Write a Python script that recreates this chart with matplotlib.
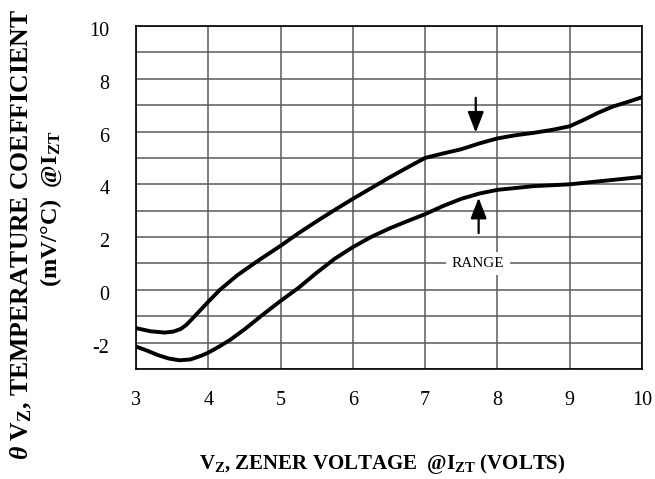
import matplotlib
matplotlib.use("Agg")
import matplotlib.pyplot as plt
import matplotlib.transforms as mtransforms
from matplotlib import font_manager
from matplotlib.ft2font import FT2Font

# ---------------- data ----------------
upper_x = [3.0, 3.2, 3.4, 3.52, 3.62, 3.7, 3.77, 3.88, 4.0, 4.16, 4.4, 4.67, 5.0,
           5.25, 5.5, 5.75, 6.0, 6.25, 6.5, 6.75, 7.0, 7.25, 7.5, 7.75, 8.0, 8.25,
           8.5, 8.75, 9.0, 9.2, 9.4, 9.6, 9.8, 10.0]
upper_y = [-1.45, -1.57, -1.62, -1.58, -1.48, -1.32, -1.12, -0.8, -0.45, 0.0, 0.55,
           1.07, 1.67, 2.15, 2.6, 3.03, 3.45, 3.85, 4.25, 4.63, 5.0, 5.17, 5.33,
           5.55, 5.74, 5.86, 5.95, 6.06, 6.2, 6.45, 6.72, 6.95, 7.12, 7.3]

lower_x = [3.0, 3.15, 3.3, 3.45, 3.6, 3.75, 3.9, 4.0, 4.15, 4.3, 4.5, 4.75, 5.0,
           5.25, 5.5, 5.75, 6.0, 6.25, 6.5, 6.75, 7.0, 7.25, 7.5, 7.75, 8.0, 8.5,
           9.0, 9.5, 10.0]
lower_y = [-2.15, -2.3, -2.47, -2.6, -2.67, -2.64, -2.5, -2.38, -2.15, -1.9, -1.5,
           -0.95, -0.42, 0.08, 0.65, 1.18, 1.62, 2.0, 2.32, 2.6, 2.87, 3.18, 3.45,
           3.65, 3.79, 3.93, 4.0, 4.14, 4.28]

x_ticks = [3, 4, 5, 6, 7, 8, 9, 10]
y_ticks = [-2, 0, 2, 4, 6, 8, 10]
y_minor = [-3, -1, 1, 3, 5, 7, 9]

range_label = "RANGE"
range_pos = (7.73, 1.0)
arrow_down = ((7.70, 7.28), (7.70, 5.96))   # (tail, tip)
arrow_up = ((7.74, 2.15), (7.74, 3.49))

# ---------------- fonts ----------------
plt.rcParams['font.family'] = ['Liberation Serif', 'DejaVu Serif']
plt.rcParams['mathtext.fontset'] = 'custom'
plt.rcParams['mathtext.rm'] = 'Liberation Serif:bold'
plt.rcParams['mathtext.bf'] = 'Liberation Serif:bold'
plt.rcParams['mathtext.it'] = 'Liberation Serif:bold:italic'

deg = '℃'
try:
    fp = font_manager.findfont(font_manager.FontProperties(family='Liberation Serif', weight='bold'))
    if ord(deg) not in FT2Font(fp).get_charmap():
        deg = '°C'
except Exception:
    deg = '°C'

# ---------------- figure ----------------
fig = plt.figure(figsize=(6.55, 4.79), dpi=100)
ax = fig.add_axes([136 / 655, 1 - 369 / 479, 506 / 655, 343 / 479])

ax.plot(upper_x, upper_y, color='black', lw=2.8, solid_joinstyle='round',
        solid_capstyle='butt', zorder=3)
ax.plot(lower_x, lower_y, color='black', lw=2.8, solid_joinstyle='round',
        solid_capstyle='butt', zorder=3)

ax.set_xlim(3, 10)
ax.set_ylim(-3, 10)
ax.set_xticks(x_ticks)
ax.set_xticklabels([str(v) for v in x_ticks])
ax.set_yticks(y_ticks)
ax.set_yticklabels([str(v) for v in y_ticks])
ax.set_yticks(y_minor, minor=True)

ax.grid(True, which='both', color='#5a5a5a', lw=1.1)
ax.set_axisbelow(True)
ax.tick_params(axis='both', which='both', length=0, labelsize=14.5)
ax.tick_params(axis='x', pad=16)
ax.tick_params(axis='y', pad=19)
for s in ax.spines.values():
    s.set_color('black')
    s.set_linewidth(1.2)

# small downward offset of y tick labels as in reference
off = mtransforms.ScaledTranslation(0, -3 / 100, fig.dpi_scale_trans)
for lbl in ax.get_yticklabels():
    lbl.set_transform(lbl.get_transform() + off)

# RANGE annotation
ax.text(range_pos[0], range_pos[1], range_label, ha='center', va='center',
        fontsize=11, zorder=4,
        bbox=dict(boxstyle='square,pad=0.35', facecolor='white', edgecolor='none'))
for tail, tip in (arrow_down, arrow_up):
    ax.annotate('', xy=tip, xytext=tail,
                arrowprops=dict(arrowstyle='-|>,head_length=0.9,head_width=0.35',
                                color='black', lw=1.6, mutation_scale=14,
                                shrinkA=0, shrinkB=0), zorder=5)

# axis titles
fig.text(382 / 655, 1 - 464 / 479,
         r'V$_{\mathrm{Z}}$, ZENER VOLTAGE  @I$_{\mathrm{ZT}}$ (VOLTS)',
         ha='center', va='center', fontsize=15, fontweight='bold')
fig.text(21 / 655, 1 - 235 / 479,
         r'$\theta$ V$_{\mathrm{Z}}$, TEMPERATURE COEFFICIENT',
         ha='center', va='center', rotation=90, fontsize=18.5, fontweight='bold')
fig.text(51 / 655, 1 - 209 / 479,
         '(mV/' + deg + r')  @I$_{\mathrm{ZT}}$',
         ha='center', va='center', rotation=90, fontsize=17.5, fontweight='bold')

fig.savefig('out.png', dpi=100)
